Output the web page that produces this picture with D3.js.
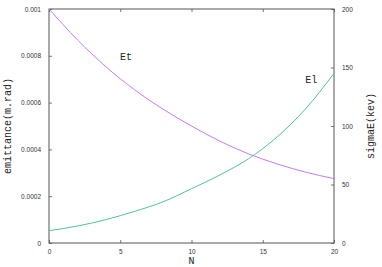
<!DOCTYPE html>
<html>
<head>
<meta charset="utf-8">
<script src="https://cdn.jsdelivr.net/npm/d3@7"></script>
<style>
  body { margin: 0; background: #fff; }
  .tick text { font-family: "Liberation Sans", Arial, sans-serif; font-size: 6.5px; fill: #333; }
  .lbl { font-family: "Liberation Mono", "DejaVu Sans Mono", monospace; font-size: 10px; fill: #222; }
</style>
</head>
<body>
<svg id="chart" width="382" height="267"></svg>
<script>
// Data
const N = [0, 2, 4, 6, 8, 10, 12, 14, 16, 18, 20];
const etValues = [0.001, 0.000868, 0.000753, 0.000655, 0.000572, 0.000500, 0.000435, 0.000381, 0.000338, 0.000303, 0.000275]; // emittance (m.rad)
const elValues = [10.5, 14.5, 20.0, 27.0, 35.2, 46.4, 58.2, 72.0, 90.6, 114.6, 145.0]; // sigmaE (kev)
const xTicks = [0, 5, 10, 15, 20];
const yTicks = [0, 0.0002, 0.0004, 0.0006, 0.0008, 0.001];
const y2Ticks = [0, 50, 100, 150, 200];

const MARGIN = { top: 9, right: 48, bottom: 24, left: 49 };
const COLORS = { et: '#c47af8', el: '#4cc4a0', border: '#555' };

const svg = d3.select('#chart');
const W = 382, H = 267;
const pw = W - MARGIN.left - MARGIN.right;
const ph = H - MARGIN.top - MARGIN.bottom;

const g = svg.append('g').attr('transform', `translate(${MARGIN.left},${MARGIN.top})`);

const x = d3.scaleLinear().domain([0, 20]).range([0, pw]);
const y = d3.scaleLinear().domain([0, 0.001]).range([ph, 0]);
const y2 = d3.scaleLinear().domain([0, 200]).range([ph, 0]);

// Axes (gnuplot-like inward ticks)
function styleAxis(sel) {
  sel.select('.domain').remove();
  sel.selectAll('.tick line').attr('stroke', '#777');
}

g.append('g').attr('transform', `translate(0,${ph})`)
  .call(d3.axisBottom(x).tickValues(xTicks).tickSizeInner(-3).tickSizeOuter(0).tickPadding(6).tickFormat(d3.format('d')))
  .call(styleAxis);

g.append('g')
  .call(d3.axisTop(x).tickValues(xTicks).tickSizeInner(-3).tickSizeOuter(0).tickFormat(''))
  .call(styleAxis);

g.append('g')
  .call(d3.axisLeft(y).tickValues(yTicks).tickSizeInner(-3).tickSizeOuter(0).tickPadding(8).tickFormat(d => d === 0 ? '0' : String(+d.toFixed(4))))
  .call(styleAxis);

g.append('g').attr('transform', `translate(${pw},0)`)
  .call(d3.axisRight(y2).tickValues(y2Ticks).tickSizeInner(-3).tickSizeOuter(0).tickPadding(8).tickFormat(d3.format('d')))
  .call(styleAxis);

// Border
g.append('rect')
  .attr('width', pw).attr('height', ph)
  .attr('fill', 'none').attr('stroke', COLORS.border).attr('stroke-width', 1);

// Curves
const lineEt = d3.line().x((d, i) => x(N[i])).y(d => y(d)).curve(d3.curveMonotoneX);
const lineEl = d3.line().x((d, i) => x(N[i])).y(d => y2(d)).curve(d3.curveMonotoneX);

g.append('path').datum(etValues)
  .attr('d', lineEt).attr('fill', 'none').attr('stroke', COLORS.et).attr('stroke-width', 1);
g.append('path').datum(elValues)
  .attr('d', lineEl).attr('fill', 'none').attr('stroke', COLORS.el).attr('stroke-width', 1);

// Curve labels
g.append('text').attr('class', 'lbl').attr('x', x(5.4)).attr('y', y(0.000782)).attr('text-anchor', 'middle').text('Et');
g.append('text').attr('class', 'lbl').attr('x', x(18.4)).attr('y', y2(137)).attr('text-anchor', 'middle').text('El');

// Axis titles
svg.append('text').attr('class', 'lbl')
  .attr('transform', `translate(11,${MARGIN.top + ph / 2}) rotate(-90)`)
  .attr('text-anchor', 'middle').text('emittance(m.rad)');
svg.append('text').attr('class', 'lbl')
  .attr('transform', `translate(374,${MARGIN.top + ph / 2}) rotate(-90)`)
  .attr('text-anchor', 'middle').text('sigmaE(kev)');
svg.append('text').attr('class', 'lbl')
  .attr('x', MARGIN.left + pw / 2).attr('y', 264)
  .attr('text-anchor', 'middle').text('N');
</script>
</body>
</html>
